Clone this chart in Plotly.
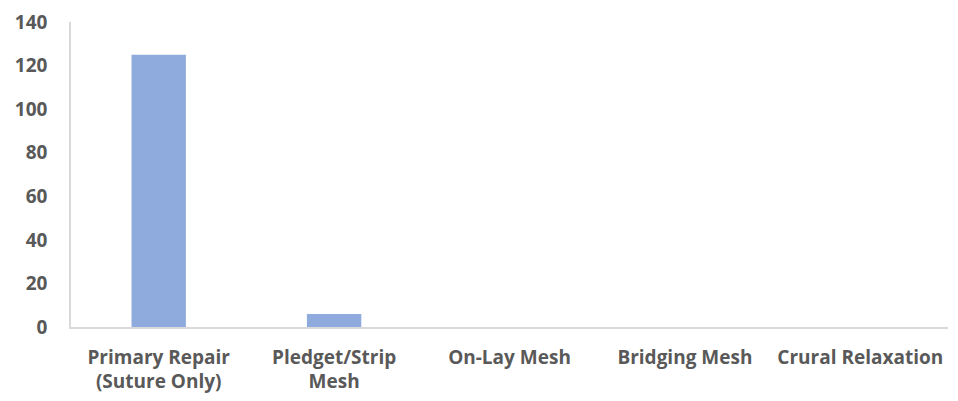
import plotly.graph_objects as go

# Repair technique counts
categories = [
    "Primary Repair<br>(Suture Only)",
    "Pledget/Strip<br>Mesh",
    "On-Lay Mesh",
    "Bridging Mesh",
    "Crural Relaxation",
]
counts = [125, 6, 0, 0, 0]
y_ticks = [0, 20, 40, 60, 80, 100, 120, 140]

text_color = "#595959"
axis_color = "#d9d9d9"
font_family = "Open Sans, Liberation Sans, sans-serif"

fig = go.Figure(
    go.Bar(
        x=categories,
        y=counts,
        marker=dict(color="#8faadc", line=dict(width=0)),
        width=0.31,
    )
)

fig.update_layout(
    width=958,
    height=401,
    margin=dict(l=71, r=10, t=22, b=74),
    paper_bgcolor="white",
    plot_bgcolor="white",
    showlegend=False,
    font=dict(family=font_family, size=19, color=text_color),
)

fig.update_yaxes(
    range=[0, 140],
    tickvals=y_ticks,
    showgrid=False,
    zeroline=False,
    showline=True,
    linecolor=axis_color,
    linewidth=1.5,
    ticks="outside",
    ticklen=18,
    tickcolor="rgba(0,0,0,0)",
    tickfont=dict(family=font_family, size=19, color=text_color, weight="bold"),
    automargin=False,
)

fig.update_xaxes(
    showgrid=False,
    showline=True,
    linecolor=axis_color,
    linewidth=1.5,
    ticks="outside",
    ticklen=12,
    tickcolor="rgba(0,0,0,0)",
    tickfont=dict(family=font_family, size=19, color=text_color, weight="bold"),
    automargin=False,
)

fig.write_html("out.html")
